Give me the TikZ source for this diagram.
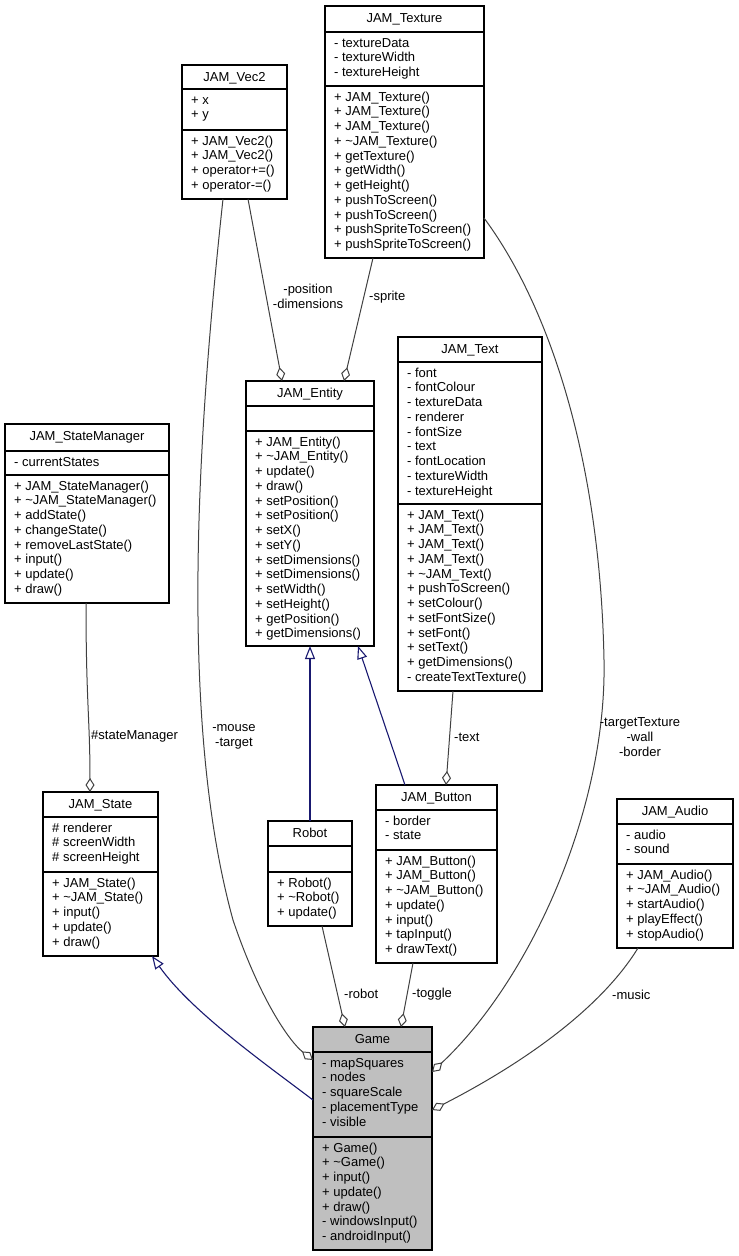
\documentclass[tikz,border=0pt]{standalone}
\usepackage{fontspec}
\setmainfont{Liberation Sans}
\usetikzlibrary{arrows.meta}
\definecolor{edgegray}{HTML}{404040}
\definecolor{genblue}{HTML}{191970}
\definecolor{gamegray}{HTML}{BFBFBF}
\newcommand\fs{\fontsize{13}{14.75}\selectfont}
\newcommand\tl{\textasciitilde}
% #1 name, #2 x1, #3 y1, #4 x2, #5 sep1, #6 sep2, #7 y2, #8 title, #9 fill
\newcommand\umlbox[9]{%
  \node[clsbox, fill=#9, minimum width={#4-#2}, minimum height={#7-#3}, anchor=north west] (#1) at (#2,#3) {};
  \draw[sepline] (#2,#5) -- (#4,#5);
  \draw[sepline] (#2,#6) -- (#4,#6);
  \node[clstitle] (#1-t) at ({(#2+#4)/2},{#3+16.5}) {#8};
  \coordinate (#1-a) at ({#2+9},{#5+4.7});
  \coordinate (#1-m) at ({#2+9},{#6+4.7});
}
\tikzset{
  clsbox/.style={draw=black, line width=1.1pt, inner sep=0pt, outer sep=0pt, rectangle},
  sepline/.style={draw=black, line width=1.1pt},
  clstitle/.style={anchor=base, inner sep=0pt, font=\fs},
  members/.style={anchor=north west, inner sep=0pt, align=left, font=\fs},
  lbl/.style={inner sep=0pt, font=\fs, align=center},
  agg/.style={draw=edgegray, line width=1pt, -{Diamond[open,length=14pt,width=9pt,line width=1pt]}},
  gen/.style={draw=genblue, line width=1.1pt, -{Triangle[open,length=13pt,width=10pt,line width=1.1pt]}},
}
\begin{document}
\begin{tikzpicture}[x=1pt,y=-1pt]
\useasboundingbox (0,0) rectangle (739,1256);

% JAM_Texture
\umlbox{texture}{325}{6}{484}{32}{86}{258}{JAM\_Texture}{white}
\node[members] (texture-attrs) at (texture-a) {\strut- textureData\\- textureWidth\\- textureHeight};
\node[members] (texture-meth) at (texture-m) {\strut+ JAM\_Texture()\\+ JAM\_Texture()\\+ JAM\_Texture()\\+ \tl JAM\_Texture()\\+ getTexture()\\+ getWidth()\\+ getHeight()\\+ pushToScreen()\\+ pushToScreen()\\+ pushSpriteToScreen()\\+ pushSpriteToScreen()};

% JAM_Vec2
\umlbox{vec2}{182}{65}{287}{89}{130}{199}{JAM\_Vec2}{white}
\node[members] (vec2-attrs) at (vec2-a) {\strut+ x\\+ y};
\node[members] (vec2-meth) at (vec2-m) {\strut+ JAM\_Vec2()\\+ JAM\_Vec2()\\+ operator+=()\\+ operator-=()};

% JAM_Entity
\umlbox{entity}{246}{381}{374}{406}{431}{646}{JAM\_Entity}{white}
\node[members] (entity-meth) at (entity-m) {\strut+ JAM\_Entity()\\+ \tl JAM\_Entity()\\+ update()\\+ draw()\\+ setPosition()\\+ setPosition()\\+ setX()\\+ setY()\\+ setDimensions()\\+ setDimensions()\\+ setWidth()\\+ setHeight()\\+ getPosition()\\+ getDimensions()};

% JAM_Text
\umlbox{text}{398}{337}{542}{362}{504}{691}{JAM\_Text}{white}
\node[members] (text-attrs) at (text-a) {\strut- font\\- fontColour\\- textureData\\- renderer\\- fontSize\\- text\\- fontLocation\\- textureWidth\\- textureHeight};
\node[members] (text-meth) at (text-m) {\strut+ JAM\_Text()\\+ JAM\_Text()\\+ JAM\_Text()\\+ JAM\_Text()\\+ \tl JAM\_Text()\\+ pushToScreen()\\+ setColour()\\+ setFontSize()\\+ setFont()\\+ setText()\\+ getDimensions()\\- createTextTexture()};

% JAM_StateManager
\umlbox{statemgr}{5}{424}{169}{451}{475}{603}{JAM\_StateManager}{white}
\node[members] (statemgr-attrs) at (statemgr-a) {\strut- currentStates};
\node[members] (statemgr-meth) at (statemgr-m) {\strut+ JAM\_StateManager()\\+ \tl JAM\_StateManager()\\+ addState()\\+ changeState()\\+ removeLastState()\\+ input()\\+ update()\\+ draw()};

% JAM_State
\umlbox{state}{43}{792}{158}{817}{872}{956}{JAM\_State}{white}
\node[members] (state-attrs) at (state-a) {\strut\# renderer\\\# screenWidth\\\# screenHeight};
\node[members] (state-meth) at (state-m) {\strut+ JAM\_State()\\+ \tl JAM\_State()\\+ input()\\+ update()\\+ draw()};

% Robot
\umlbox{robot}{268}{821}{352}{846}{872}{926}{Robot}{white}
\node[members] (robot-meth) at (robot-m) {\strut+ Robot()\\+ \tl Robot()\\+ update()};

% JAM_Button
\umlbox{button}{376}{785}{497}{810}{850}{963}{JAM\_Button}{white}
\node[members] (button-attrs) at (button-a) {\strut- border\\- state};
\node[members] (button-meth) at (button-m) {\strut+ JAM\_Button()\\+ JAM\_Button()\\+ \tl JAM\_Button()\\+ update()\\+ input()\\+ tapInput()\\+ drawText()};

% JAM_Audio
\umlbox{audio}{617}{799}{733}{824}{864}{948}{JAM\_Audio}{white}
\node[members] (audio-attrs) at (audio-a) {\strut- audio\\- sound};
\node[members] (audio-meth) at (audio-m) {\strut+ JAM\_Audio()\\+ \tl JAM\_Audio()\\+ startAudio()\\+ playEffect()\\+ stopAudio()};

% Game
\umlbox{game}{313}{1027}{432}{1052}{1137}{1250}{Game}{gamegray}
\node[members] (game-attrs) at (game-a) {\strut- mapSquares\\- nodes\\- squareScale\\- placementType\\- visible};
\node[members] (game-meth) at (game-m) {\strut+ Game()\\+ \tl Game()\\+ input()\\+ update()\\+ draw()\\- windowsInput()\\- androidInput()};

% ---- connectors ----
% generalizations
\draw[gen] (robot.north) -- ([xshift=64]entity.south west);
\draw[gen] ([xshift=29]button.north west) -- ([xshift=112]entity.south west);
\draw[gen] ([yshift=-73]game.north west) .. controls (260,1060) and (190,1010) .. ([xshift=109]state.south west);

% aggregations
\draw[agg] ([xshift=66]vec2.south west) -- ([xshift=36]entity.north west);
\draw[agg] ([xshift=48]texture.south west) -- ([xshift=98]entity.north west);
\draw[agg] ([xshift=41]vec2.south west) .. controls (198,430) and (178,720) .. (233,920) .. controls (260,1000) and (290,1042) .. ([yshift=-33]game.north west);
\draw[agg] ([yshift=-212]texture.north east) .. controls (545,300) and (600,450) .. (604,660) .. controls (607,810) and (530,980) .. ([yshift=-45]game.north east);
\draw[agg] ([xshift=81]statemgr.south west) .. controls (86,700) and (90,720) .. ([xshift=47]state.north west);
\draw[agg] ([xshift=55]text.south west) -- ([xshift=70]button.north west);
\draw[agg] ([xshift=54]robot.south west) -- ([xshift=32]game.north west);
\draw[agg] ([xshift=37]button.south west) -- ([xshift=88]game.north west);
\draw[agg] ([xshift=21]audio.south west) .. controls (600,1010) and (520,1065) .. ([yshift=-83]game.north east);

% labels
\node[lbl] (l-posdim) at (308,296) {-position\\-dimensions};
\node[lbl, anchor=west] (l-sprite) at (369,297) {-sprite};
\node[lbl] (l-mouse) at (234,737) {-mouse\\-target};
\node[lbl] (l-target) at (640,737) {-targetTexture\\-wall\\-border};
\node[lbl, anchor=west] (l-sm) at (91,736) {\#stateManager};
\node[lbl, anchor=west] (l-text) at (454,737) {-text};
\node[lbl, anchor=west] (l-robot) at (344,994) {-robot};
\node[lbl, anchor=west] (l-toggle) at (412,994) {-toggle};
\node[lbl, anchor=west] (l-music) at (612,995) {-music};
\end{tikzpicture}
\end{document}
